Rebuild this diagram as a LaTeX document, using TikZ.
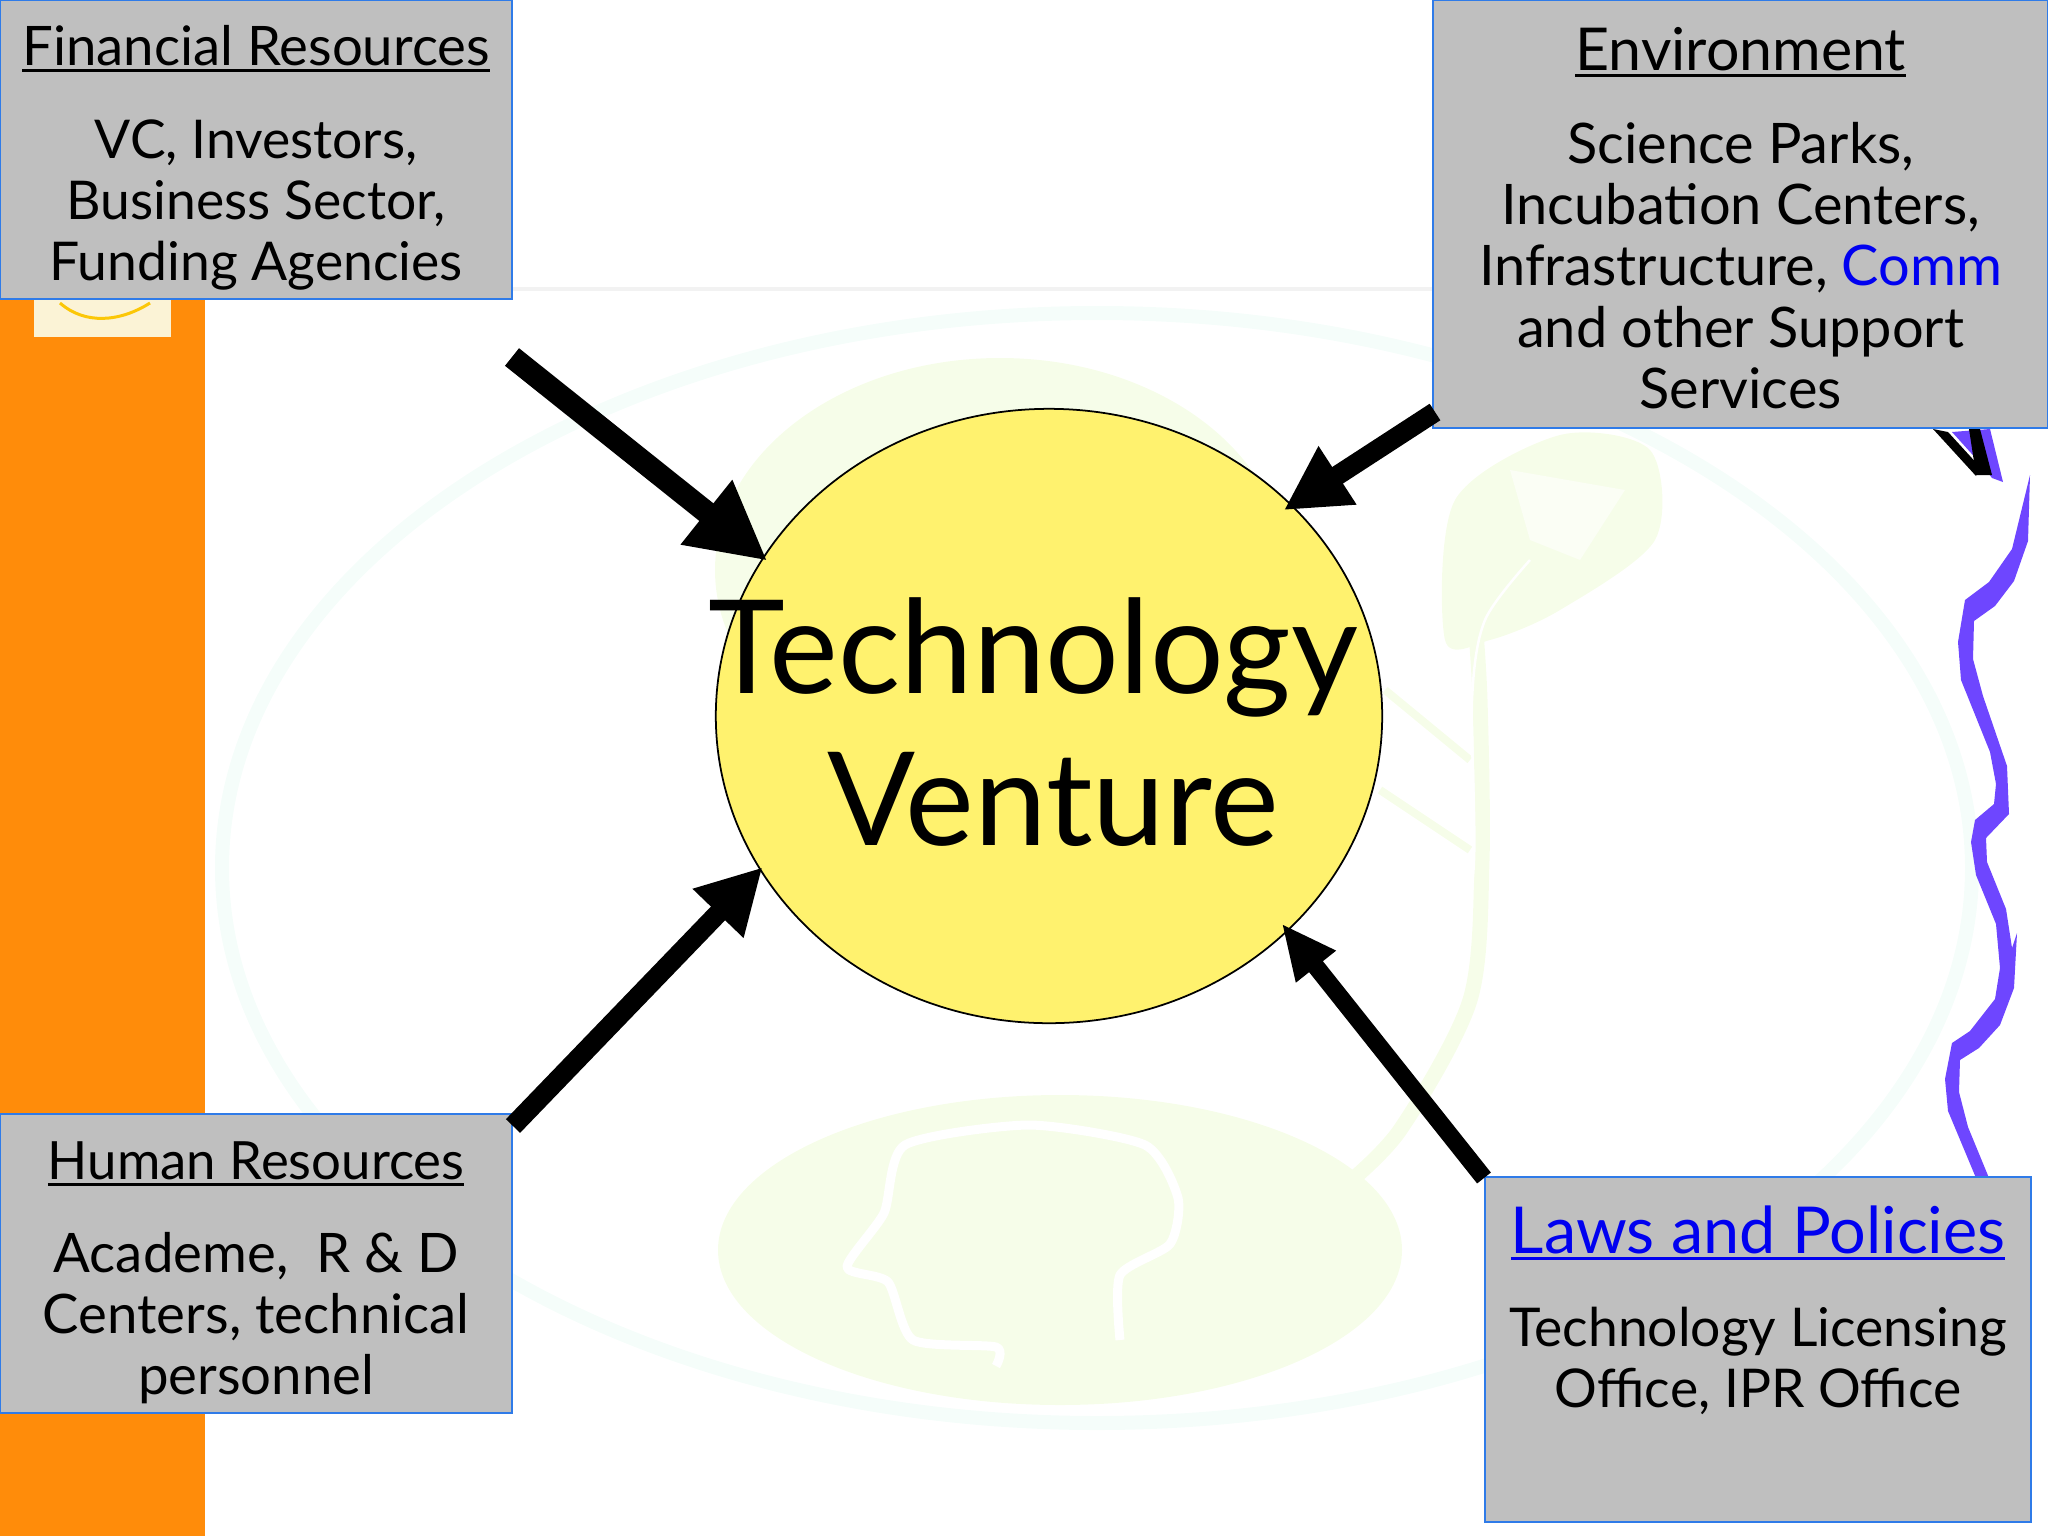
\documentclass[tikz,border=0pt]{standalone}
\usepackage{fontspec}
\setmainfont{Lato}
\usetikzlibrary{arrows.meta,shapes.geometric}

\definecolor{sidebar}{HTML}{FF8C0A}
\definecolor{logocream}{HTML}{FBF3D6}
\definecolor{panelfill}{HTML}{BFBFBF}
\definecolor{paneledge}{HTML}{2F7BE8}
\definecolor{linkblue}{HTML}{0000F0}
\definecolor{ventureyellow}{HTML}{FFF26E}
\definecolor{wavepurple}{HTML}{6E46FF}
\definecolor{leafgreen}{HTML}{F6FDE9}
\definecolor{ringgreen}{HTML}{F5FDFA}

% heading with a heavier rule under it
\newcommand{\headtext}[1]{\setbox0\hbox{#1}\rlap{\rule[-1.9pt]{\wd0}{0.85pt}}\box0}
\newcommand{\lowerby}[1]{\rule{0pt}{#1}}

\tikzset{
  panel/.style={rectangle, draw=paneledge, fill=panelfill, line width=0.6pt,
    anchor=north west, outer sep=0pt, inner sep=0pt, align=center},
  venture/.style={ellipse, draw=black, fill=ventureyellow, line width=0.5pt,
    minimum width=6.66cm, minimum height=6.14cm, inner sep=0pt, outer sep=0pt},
  feed/.style={draw=black, line cap=butt}
}

\begin{document}
\begin{tikzpicture}[x=0.01cm,y=-0.01cm]
    \useasboundingbox (0,0) rectangle (2048,1536);

    % --- Faded background ---
    \draw[ringgreen, line width=1.4mm] (1097,868) ellipse (875 and 555);
    \fill[leafgreen] (1000,570) ellipse (285 and 212);
    \fill[leafgreen] (1060,1250) ellipse (342 and 155);
    \fill[leafgreen] plot[smooth cycle] coordinates {(1445,640) (1455,500) (1560,435) (1650,450) (1655,540) (1560,610) (1490,640)};
    \fill[white!55!leafgreen] (1510,470) -- (1625,490) -- (1580,560) -- (1530,540) -- cycle;
    \draw[leafgreen, line width=0.8mm] (1470,850) -- (1380,790);
    \draw[leafgreen, line width=0.8mm] (1470,760) -- (1385,690);
    \draw[leafgreen, line width=1.5mm] plot[smooth] coordinates {(1475,620) (1480,700) (1482,860) (1470,1000) (1400,1130) (1340,1190)};
    \draw[white, line width=0.25mm] plot[smooth] coordinates {(1530,560) (1485,620) (1472,700) (1474,860) (1460,1000)};
    \draw[white, line width=0.9mm, line join=round] plot[smooth, tension=0.4] coordinates {(996,1366) (996,1347) (913,1340) (888,1282) (847,1267) (884,1213)
        (905,1145) (1029,1125) (1145,1145) (1178,1198) (1170,1244) (1120,1275) (1120,1340)};
    \draw[black!5, line width=0.4mm] (512,289) -- (1433,289);

    % --- Side bar and logo ---
    \fill[sidebar] (0,0) rectangle (205,1536);
    \fill[logocream] (34,299) rectangle (171,337);
    \draw[yellow!60!orange, line width=0.3mm] (60,303) .. controls (85,325) and (120,322) .. (150,303);

    % --- Wavy line on the right ---
    \fill[wavepurple] (2030,475) -- (2028,541) -- (2014,581) -- (1995,606) -- (1974,621) -- (1973,659) -- (1983,696) -- (2007,766)
        -- (2009,814) -- (1986,838) -- (1987,862) -- (2006,909) -- (2012,948) -- (2017,933) -- (2014,988) -- (2000,1025)
        -- (1979,1048) -- (1960,1060) -- (1959,1092) -- (1968,1127) -- (1989,1178) -- (1976,1178) -- (1948,1111) -- (1945,1079)
        -- (1952,1043) -- (1970,1031) -- (1995,999) -- (2000,968) -- (1996,924) -- (1976,875) -- (1971,842) -- (1975,820)
        -- (1994,804) -- (1996,784) -- (1990,752) -- (1961,680) -- (1958,642) -- (1965,600) -- (1989,582) -- (2012,549) -- cycle;
    \fill[wavepurple] (1952,432) -- (1990,429) -- (2003,482) -- (1992,478) -- (1980,463) -- cycle;
    \fill[black] (1933,429) -- (1948,432) -- (1980,467) -- (1976,476) -- cycle;
    \fill[black] (1969,429) -- (1980,429) -- (1992,475) -- (1976,475) -- cycle;

    % --- Centre ---
    \node[venture] (tech) at (1049,716) {};
    \node[align=center, inner sep=0pt, font={\fontsize{37}{43.4}\selectfont}] (techlabel) at (1053,722) {Technology\hspace*{11pt}\\Venture};

    % --- Panels ---
    \node[panel, minimum width=5.12cm, minimum height=2.99cm, font={\fontsize{15.2}{17.4}\selectfont}] (financial) at (0,0)
        {\lowerby{16pt}{\fontsize{15.5}{17.4}\selectfont\headtext{Financial Resources}}\\[9pt]VC, Investors,\\Business Sector,\\Funding Agencies};
    \node[panel, minimum width=6.15cm, minimum height=4.28cm, font={\fontsize{15.9}{17.4}\selectfont}] (environment) at (1433,0)
        {\lowerby{14.5pt}{\fontsize{16.8}{17.4}\selectfont\headtext{Environment}}\\[9pt]Science Parks,\\Incubation Centers,\\Infrastructure, \textcolor{linkblue}{Comm}\\and other Support\\Services};
    \node[panel, minimum width=5.12cm, minimum height=2.99cm, font={\fontsize{15.5}{17.4}\selectfont}] (human) at (0,1114)
        {\lowerby{16pt}{\fontsize{15}{17.4}\selectfont\headtext{Human Resources}}\\[9pt]Academe,~ R \& D\\Centers, technical\\personnel};
    \node[panel, minimum width=5.46cm, minimum height=3.45cm, font={\fontsize{15.2}{17.4}\selectfont}] (laws) at (1485,1177)
        {{\color{linkblue}\fontsize{18.4}{17.4}\selectfont\headtext{Laws and Policies}}\\[9pt]Technology Licensing\\Office, IPR Office\\[7pt]~};

    % --- Free ends of the arrows ---
    \coordinate (financialtail) at (512,357);
    \coordinate (environmenttail) at (1435,412);
    \coordinate (humantail) at (513,1126);
    \coordinate (lawstail) at (1484,1178);

    % --- Arrows ---
    \draw[feed, line width=6.4pt, shorten >=-0.05cm, -{Triangle[length=0.78cm,width=0.77cm]}] (financialtail) -- (tech.151.6);
    \draw[feed, line width=5.6pt, shorten >=-0.09cm, -{Triangle[length=0.64cm,width=0.65cm]}] (environmenttail) -- (tech.41.6);
    \draw[feed, line width=5.6pt, shorten >=-0.03cm, -{Triangle[length=0.64cm,width=0.66cm]}] (humantail) -- (tech.208.7);
    \draw[feed, line width=5pt, shorten >=-0.09cm, -{Triangle[length=0.55cm,width=0.47cm]}] (lawstail) -- (tech.318.3);

\end{tikzpicture}
\end{document}
